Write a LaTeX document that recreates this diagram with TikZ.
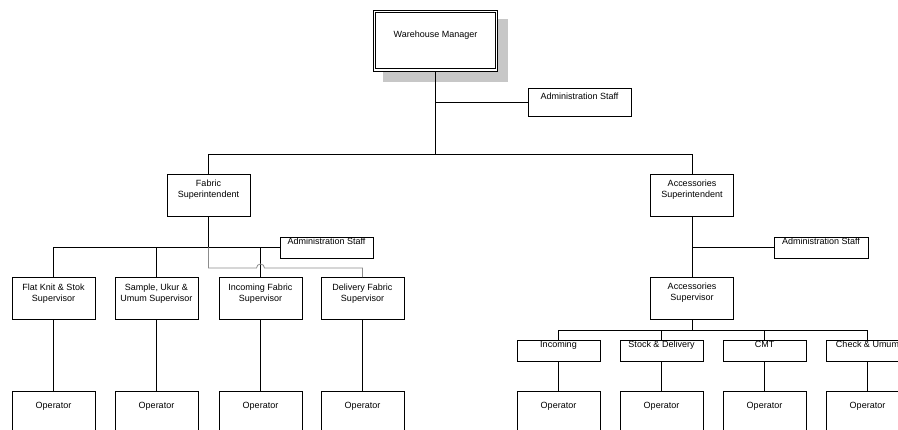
\documentclass[tikz,border=0pt]{standalone}
\usepackage{fontspec}
\setmainfont{Liberation Sans}
\begin{document}
\begin{tikzpicture}[x=1pt,y=-1pt,
  font=\fontsize{9}{11}\selectfont,
  line width=0.8pt,
  box/.style={draw, rectangle, inner sep=0pt, fill=white, line width=0.8pt},
  lbl/.style={anchor=north, inner sep=0pt, align=center},
  wide/.style={minimum width=83pt},
  tall/.style={minimum height=42pt},
  slim/.style={minimum height=21pt},
  grayline/.style={draw=black!45, line width=0.8pt}
]
\useasboundingbox (0,0) rectangle (898,430);
\clip (0,0) rectangle (898,430);

% top of the chart
\fill[black!22] (383,19) rectangle (508,82);
\node[box, minimum width=124pt, minimum height=61pt,
      label={[lbl, yshift=-20.5pt]north:Warehouse Manager}] (wm) at (435.5,40.5) {};
\draw ([shift={(2.6,2.6)}]wm.north west) rectangle ([shift={(-2.6,-2.6)}]wm.south east);
\node[box, minimum width=103pt, minimum height=28pt,
      label={[lbl, yshift=-5pt]north:Administration Staff}] (adm1) at (579.5,102) {};
\coordinate (topbus) at (435.5,154);

% superintendents
\node[box, wide, tall, label={[lbl, yshift=-6pt]north:Fabric\\Superintendent}] (fs) at (208.5,195) {};
\node[box, wide, tall, label={[lbl, yshift=-6pt]north:Accessories\\Superintendent}] (as) at (692,195) {};

% fabric side
\node[box, minimum width=93pt, slim, label={[lbl, yshift=-1pt]north:Administration Staff}] (adm2) at (326.5,247.5) {};
\coordinate (fbus) at (208.5,247.5);
\coordinate (hop) at (260.5,268);

\node[box, wide, tall, label={[lbl, yshift=-6pt]north:Flat Knit \& Stok\\Supervisor}] (s1) at (53.5,298.5) {};
\node[box, wide, tall, label={[lbl, yshift=-6pt]north:{Sample, Ukur \&\\Umum Supervisor}}] (s2) at (156.5,298.5) {};
\node[box, wide, tall, label={[lbl, yshift=-6pt]north:Incoming Fabric\\Supervisor}] (s3) at (260.5,298.5) {};
\node[box, wide, tall, label={[lbl, yshift=-6pt]north:Delivery Fabric\\Supervisor}] (s4) at (362.5,298.5) {};

\foreach \i/\x in {1/53.5,2/156.5,3/260.5,4/362.5}
  \node[box, wide, minimum height=50pt, label={[lbl, yshift=-11.5pt]north:Operator}] (o\i) at (\x,416) {};

% accessories side
\node[box, minimum width=94pt, slim, label={[lbl, yshift=-1pt]north:Administration Staff}] (adm3) at (821,247.5) {};
\node[box, wide, tall, label={[lbl, yshift=-6pt]north:Accessories\\Supervisor}] (asup) at (692,298) {};
\coordinate (abus) at (692,330);

\node[box, wide, slim, label={[lbl, yshift=-1pt]north:Incoming}] (b1) at (558.5,350.5) {};
\node[box, wide, slim, label={[lbl, yshift=-1pt]north:Stock \& Delivery}] (b2) at (661.5,350.5) {};
\node[box, wide, slim, label={[lbl, yshift=-1pt]north:CMT}] (b3) at (764.5,350.5) {};
\node[box, wide, slim, label={[lbl, yshift=-1pt]north:Check \& Umum}] (b4) at (867.5,350.5) {};

\foreach \i/\x in {5/558.5,6/661.5,7/764.5,8/867.5}
  \node[box, wide, minimum height=50pt, label={[lbl, yshift=-11.5pt]north:Operator}] (o\i) at (\x,416) {};

% connectors: top
\draw (wm.south) -- (topbus);
\draw (adm1.west) -- (adm1.west -| wm.south);
\draw (fs.north) -- (fs.north |- topbus) -| (as.north);

% connectors: fabric
\draw (fs.south) -- (fbus);
\draw (s1.north) |- (adm2.west);
\draw (s2.north) -- (s2.north |- fbus);
\draw (s3.north) -- (s3.north |- fbus);
\draw[grayline] (fbus) |- ([xshift=-4pt]hop) arc (180:360:4) -| (s4.north);
\foreach \i in {1,2,3,4}
  \draw (s\i.south) -- (o\i.north);

% connectors: accessories
\draw (as.south) -- (asup.north);
\draw (adm3.west) -- (adm3.west -| as.south);
\draw (asup.south) -- (abus);
\draw (b1.north) -- (b1.north |- abus) -- (b4.north |- abus) -- (b4.north);
\draw (b2.north) -- (b2.north |- abus);
\draw (b3.north) -- (b3.north |- abus);
\draw (b1.south) -- (o5.north);
\draw (b2.south) -- (o6.north);
\draw (b3.south) -- (o7.north);
\draw (b4.south) -- (o8.north);
\end{tikzpicture}
\end{document}
